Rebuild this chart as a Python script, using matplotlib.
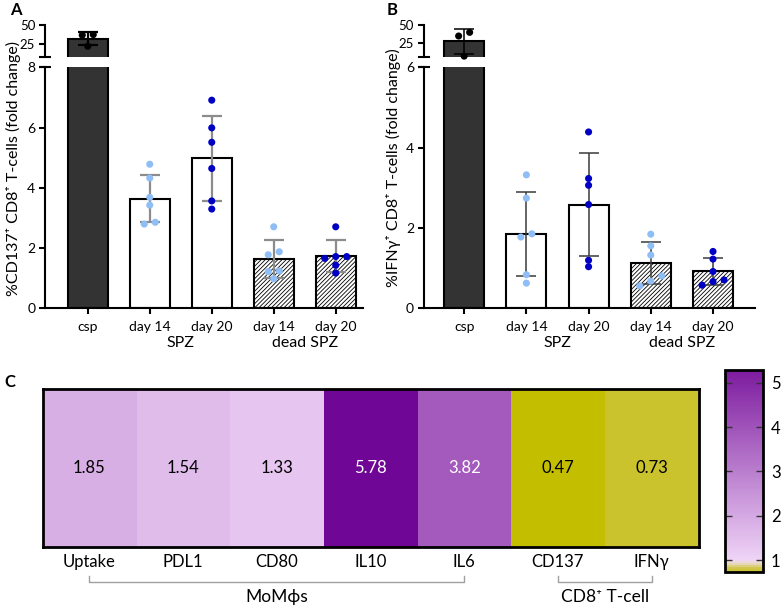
import numpy as np
import matplotlib
matplotlib.use("Agg")
import matplotlib.pyplot as plt
from matplotlib.colors import LinearSegmentedColormap, Normalize
from matplotlib.cm import ScalarMappable

plt.rcParams["font.family"] = ["Lato", "DejaVu Sans"]
plt.rcParams["hatch.linewidth"] = 0.6
plt.rcParams["hatch.color"] = "#333333"

# x categories of panels A and B
groups = ["csp", "day 14", "day 20", "day 14", "day 20"]
group_titles = ["SPZ", "dead SPZ"]

# panel A: %CD137+ CD8+ T-cells (fold change), one value per donor
cd137_csp = [37.5, 36.8, 22.4]
cd137_spz14 = [4.78, 4.32, 3.68, 3.42, 2.79, 2.85]
cd137_spz20 = [6.91, 5.99, 5.51, 4.64, 3.56, 3.29]
cd137_dead14 = [2.70, 1.87, 1.77, 1.23, 1.21, 0.97]
cd137_dead20 = [2.70, 1.71, 1.71, 1.65, 1.42, 1.16]

# panel B: %IFNy+ CD8+ T-cells (fold change)
ifng_csp = [40.0, 35.0, 7.6]
ifng_spz14 = [3.32, 2.74, 1.85, 1.77, 0.83, 0.62]
ifng_spz20 = [4.39, 3.23, 3.06, 2.58, 1.19, 1.03]
ifng_dead14 = [1.84, 1.55, 1.32, 0.80, 0.67, 0.55]
ifng_dead20 = [1.41, 1.22, 0.91, 0.70, 0.66, 0.57]

# panel C: fold change heatmap
markers = ["Uptake", "PDL1", "CD80", "IL10", "IL6", "CD137", "IFNγ"]
fold = [1.85, 1.54, 1.33, 5.78, 3.82, 0.47, 0.73]

W, H = 784, 610
LIGHT = "#8fbdf5"
DARK = "#0000c4"
point_colors = ["black", LIGHT, DARK, LIGHT, DARK]
bar_faces = ["#333333", "white", "white", "white", "white"]
bar_hatches = [None, None, None, "////////", "////////"]


def px_axes(fig, x0, x1, ytop, ybot):
    return fig.add_axes([x0 / W, 1 - ybot / H, (x1 - x0) / W, (ybot - ytop) / H])


def swarm(values, px_per_unit, step, gap=6.0):
    # spread points that nearly overlap side by side, centred on the bar
    vals = np.asarray(values, dtype=float)
    order = np.argsort(vals)
    sv = vals[order]
    offs = np.zeros(len(sv))
    start = 0
    for i in range(1, len(sv) + 1):
        if i == len(sv) or (sv[i] - sv[i - 1]) * px_per_unit > gap:
            n = i - start
            offs[start:i] = (np.arange(n) - (n - 1) / 2) * step
            start = i
    out = np.zeros(len(sv))
    out[order] = offs
    return out


def bar_panel(fig, x0, x1, xlim, top_low, bottom_max, data, ylabel, ylabel_x,
              err_colors, err_lw):
    ax_top = px_axes(fig, x0, x1, 25, 57.3)
    ax = px_axes(fig, x0, x1, 67.4, 308)
    x = np.arange(len(data))
    means = [np.mean(d) for d in data]
    sds = [np.std(d, ddof=1) for d in data]
    xpx = (x1 - x0) / (xlim[1] - xlim[0])

    for a, lims in ((ax_top, (top_low, 50)), (ax, (0, bottom_max))):
        a.set_xlim(*xlim)
        a.set_ylim(*lims)
        bars = a.bar(x, means, width=40 / xpx, color=bar_faces,
                     edgecolor="black", linewidth=1.5, zorder=1)
        for b, h in zip(bars, bar_hatches):
            if h:
                b.set_hatch(h)
        ypx = a.bbox.height / (lims[1] - lims[0])
        for i, d in enumerate(data):
            # the csp bar tops out in the upper segment, the others below
            if (means[i] > bottom_max) != (a is ax_top):
                continue
            a.errorbar(x[i], means[i], yerr=sds[i], fmt="none",
                       ecolor=err_colors[i], elinewidth=err_lw,
                       capsize=7, capthick=err_lw, zorder=2)
            d = np.asarray(d)
            offs = swarm(d, ypx, 11 / xpx)
            keep = (d >= lims[0]) & (d <= lims[1])
            if keep.any():
                a.scatter(x[i] + offs[keep], d[keep], s=26,
                          color=point_colors[i], edgecolors="none",
                          zorder=3, clip_on=False)
        for side in ("top", "right"):
            a.spines[side].set_visible(False)
        a.spines["left"].set_linewidth(1.5)
        a.spines["bottom"].set_linewidth(1.5)
        a.tick_params(direction="out", length=4, width=1.5, labelsize=10,
                      pad=3)

    ax_top.spines["bottom"].set_visible(False)
    ax_top.set_xticks([])
    ax_top.set_yticks([25, 50])
    ax_top.tick_params(labelsize=9.5)
    ax_top.plot([0], [0], marker="_", ms=8, mew=1.5, color="black",
                transform=ax_top.transAxes, clip_on=False)
    ax.plot([0], [1], marker="_", ms=8, mew=1.5, color="black",
            transform=ax.transAxes, clip_on=False)

    ax.set_yticks(np.arange(0, bottom_max + 1, 2))
    ax.set_xticks(x)
    ax.set_xticklabels(groups)
    ax.tick_params(axis="x", pad=5)
    yt = -(343 - 308) / (308 - 67.4)
    ax.text(1.5, yt, group_titles[0], transform=ax.get_xaxis_transform(),
            ha="center", va="center", fontsize=11.5)
    ax.text(3.5, yt, group_titles[1], transform=ax.get_xaxis_transform(),
            ha="center", va="center", fontsize=11.5)
    fig.text(ylabel_x / W, 1 - 168 / H, ylabel, rotation=90, ha="center",
             va="center", fontsize=11.5)


fig = plt.figure(figsize=(W / 100, H / 100), dpi=100)

bar_panel(fig, 45, 363, (-0.69, 4.44), 8, 8,
          [cd137_csp, cd137_spz14, cd137_spz20, cd137_dead14, cd137_dead20],
          "%CD137⁺ CD8⁺ T-cells (fold change)", 13,
          ["black", "#8c8c8c", "#8c8c8c", "#8c8c8c", "#8c8c8c"], 1.6)
bar_panel(fig, 423.7, 754.7, (-0.65, 4.67), 6, 6,
          [ifng_csp, ifng_spz14, ifng_spz20, ifng_dead14, ifng_dead20],
          "%IFNγ⁺ CD8⁺ T-cells (fold change)", 393,
          ["black", "#3a3a3a", "#3a3a3a", "#3a3a3a", "#3a3a3a"], 1.1)

fig.text(10 / W, 1 - 10 / H, "A", fontsize=12, fontweight="bold",
         ha="left", va="center")
fig.text(387 / W, 1 - 10 / H, "B", fontsize=12, fontweight="bold",
         ha="left", va="center")
fig.text(4 / W, 1 - 382 / H, "C", fontsize=12, fontweight="bold",
         ha="left", va="center")

# heatmap
cmap = LinearSegmentedColormap.from_list(
    "fold",
    [(0.0, "#c0bc00"), (0.5 / 5.78, "#c4c000"), (0.8 / 5.78, "#cdc43c"),
     (0.93 / 5.78, "#ebdcd0"), (1.0 / 5.78, "#efd4f7"), (1.0, "#700695")])
norm = Normalize(vmin=0, vmax=5.78)

axc = px_axes(fig, 42.5, 698.5, 389.3, 546.7)
axc.imshow(np.array(fold)[None, :], cmap=cmap, norm=norm, aspect="auto")
for i, v in enumerate(fold):
    axc.text(i, 0, f"{v:.2f}", ha="center", va="center", fontsize=12,
             color="white" if v > 3 else "black")
axc.set_xticks(np.arange(len(markers)))
axc.set_xticklabels(markers, fontsize=12)
axc.set_yticks([])
axc.tick_params(axis="x", length=0, pad=5)
for s in axc.spines.values():
    s.set_linewidth(2)

trans = axc.get_xaxis_transform()
for xa, xb, label in ((0, 4, "MoMϕs"), (5, 6, "CD8⁺ T-cell")):
    axc.plot([xa, xa, xb, xb], [-0.184, -0.226, -0.226, -0.184],
             color="#a0a0a0", lw=1, transform=trans, clip_on=False)
    axc.text((xa + xb) / 2, -0.32, label, transform=trans, ha="center",
             va="center", fontsize=12.5)

cax = px_axes(fig, 725, 762.5, 370, 572)
cb = fig.colorbar(ScalarMappable(norm=norm, cmap=cmap), cax=cax,
                  boundaries=np.linspace(0.73, 5.29, 300))
cb.set_ticks([1, 2, 3, 4, 5])
cb.outline.set_linewidth(2)
cax.tick_params(direction="in", length=5, width=1, color="#333333",
                left=True, right=True, labelsize=12, pad=6)

fig.savefig("out.png", dpi=100)
